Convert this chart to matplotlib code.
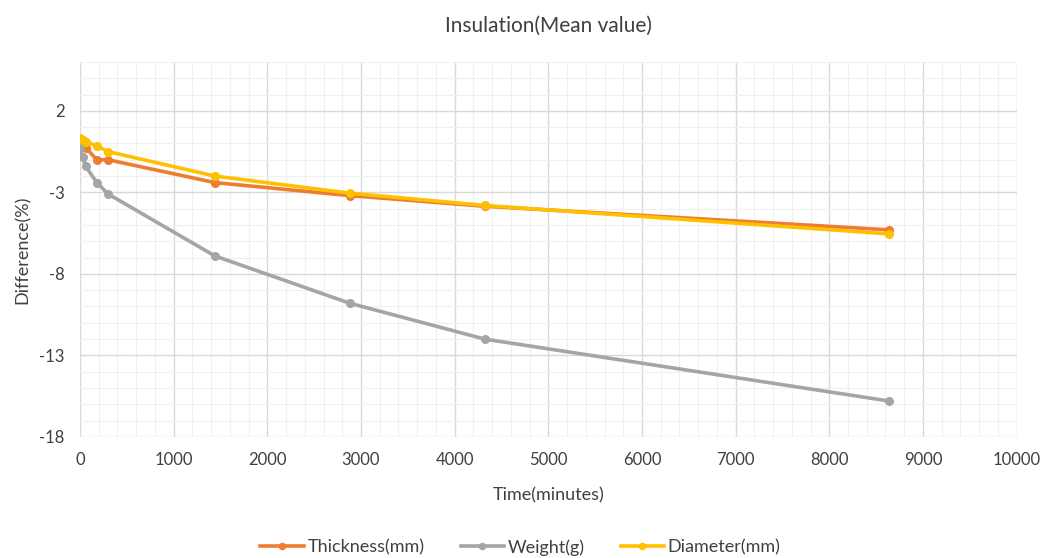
import matplotlib
matplotlib.use('Agg')
import matplotlib.pyplot as plt
from matplotlib.ticker import MultipleLocator

# elapsed time in minutes and mean change (%) per measurement
time_min = [0, 30, 60, 180, 300, 1440, 2880, 4320, 8640]
thickness = [0.05, -0.1, -0.25, -1.0, -1.0, -2.4, -3.2, -3.85, -5.3]
weight = [-0.25, -0.85, -1.4, -2.4, -3.1, -6.9, -9.8, -12.0, -15.8]
diameter = [0.35, 0.2, 0.1, -0.15, -0.5, -2.0, -3.05, -3.8, -5.55]

series = [
    ('Thickness(mm)', thickness, '#ED7D31'),
    ('Weight(g)', weight, '#A5A5A5'),
    ('Diameter(mm)', diameter, '#FFC000'),
]

plt.rcParams['font.family'] = ['Lato', 'DejaVu Sans']
plt.rcParams['axes.unicode_minus'] = False

txt = '#404040'

fig = plt.figure(figsize=(10.43, 5.58), dpi=100)
ax = fig.add_axes([0.0767, 0.217, 0.898, 0.672])

for name, vals, col in series:
    ax.plot(time_min, vals, color=col, lw=2.6, marker='o', ms=5.5, label=name)

ax.set_xlim(0, 10000)
ax.set_ylim(-18, 5)
ax.xaxis.set_major_locator(MultipleLocator(1000))
ax.xaxis.set_minor_locator(MultipleLocator(200))
ax.set_yticks([2, -3, -8, -13, -18])
ax.yaxis.set_minor_locator(MultipleLocator(1))

ax.grid(which='major', color='#D9D9D9', lw=1.0)
ax.grid(which='minor', color='#F0F0F0', lw=0.8)
ax.set_axisbelow(True)
for s in ax.spines.values():
    s.set_visible(False)
ax.tick_params(which='both', length=0, labelsize=12, labelcolor=txt, pad=11)

ax.set_title('Insulation(Mean value)', fontsize=15, color=txt, pad=22)
ax.set_xlabel('Time(minutes)', fontsize=13, color=txt, labelpad=14)
ax.set_ylabel('Difference(%)', fontsize=13, color=txt, labelpad=6)

fig.legend(loc='lower center', bbox_to_anchor=(0.499, -0.025), ncol=3, frameon=False,
           fontsize=13, labelcolor=txt, handlelength=2.4, handletextpad=0.2,
           columnspacing=2.0, markerscale=0.8)

fig.savefig('out.png', dpi=100, facecolor='white')
